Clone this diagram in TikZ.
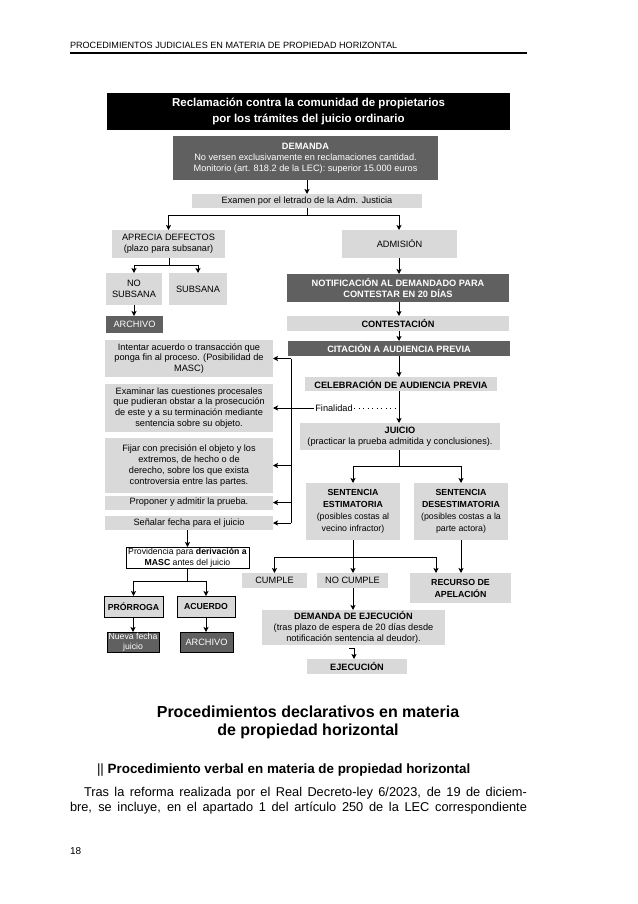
\documentclass[tikz,border=0pt]{standalone}
\usepackage{fontspec}
\setmainfont{Liberation Sans}
\usetikzlibrary{arrows.meta}
\definecolor{lightg}{HTML}{D9D9D9}
\definecolor{darkg}{HTML}{606060}
\newcommand\dfont{\fontsize{9.2}{10.8}\selectfont}
\begin{document}
\begin{tikzpicture}[x=1pt,y=-1pt,
  base/.style={inner sep=0pt,outer sep=0pt,align=center,font=\dfont},
  light/.style={base,fill=lightg},
  dark/.style={base,fill=darkg,text=white},
  bord/.style={draw=black,line width=0.9pt},
  ln/.style={line width=0.9pt},
  arr/.style={ln,-{Stealth[length=5pt,width=5pt,inset=1.2pt]}},
  sz/.style 2 args={minimum width=#1pt,minimum height=#2pt},
  txt/.style={inner sep=0pt,outer sep=0pt},
  small/.style={font=\fontsize{8.7}{10.5}\selectfont},
  sent/.style={font=\fontsize{8.8}{12}\selectfont},
]
\useasboundingbox[fill=white] (0,0) rectangle (637,904);

% header
\node[txt,anchor=west,font=\fontsize{9.1}{10}\selectfont] (hd) at (70,45) {PROCEDIMIENTOS JUDICIALES EN MATERIA DE PROPIEDAD HORIZONTAL};
\coordinate (r1) at (70,53);
\coordinate (r2) at (527,53);
\draw[line width=2pt] (r1) -- (r2);

% title
\node[base,fill=black,text=white,font=\fontsize{11.5}{16}\selectfont\bfseries,sz={403}{37}] (title) at (308.5,111.5) {Reclamación contra la comunidad de propietarios\\por los trámites del juicio ordinario};

\node[dark,sz={265}{44}] (dem) at (305.5,158) {\textbf{DEMANDA}\\No versen exclusivamente en reclamaciones cantidad.\\Monitorio (art. 818.2 de la LEC): superior 15.000 euros};
\node[light,sz={230}{14}] (exa) at (307,201) {Examen por el letrado de la Adm. Justicia};

\node[light,sz={113}{28}] (apre) at (168.5,244) {APRECIA DEFECTOS\\(plazo para subsanar)};
\node[light,sz={115}{28}] (adm) at (399.5,244) {ADMISIÓN};
\node[light,sz={56}{32}] (nosub) at (134,289) {NO\\SUBSANA};
\node[light,sz={58}{32}] (sub) at (198,289) {SUBSANA};
\node[dark,sz={57}{17}] (arch1) at (134.5,324.5) {ARCHIVO};

\node[dark,sz={222}{28}] (notif) at (398,288) {\textbf{NOTIFICACIÓN AL DEMANDADO PARA}\\\textbf{CONTESTAR EN 20 DÍAS}};
\node[light,sz={222}{15}] (cont) at (398,323.5) {\textbf{CONTESTACIÓN}};
\node[dark,sz={222}{15}] (cit) at (399,348.5) {\textbf{CITACIÓN A AUDIENCIA PREVIA}};
\node[light,sz={192}{14}] (celeb) at (401,384) {\textbf{CELEBRACIÓN DE AUDIENCIA PREVIA}};
\node[light,sz={200}{27}] (juicio) at (400,436.5) {\textbf{JUICIO}\\(practicar la prueba admitida y conclusiones).};
\node[base,inner sep=1.5pt] (fin) at (334,408) {Finalidad};

% left column
\node[light,sz={168}{37}] (b1) at (189,358.5) {Intentar acuerdo o transacción que\\ponga fin al proceso. (Posibilidad de\\MASC)};
\node[light,sz={168}{48}] (b2) at (189,408) {Examinar las cuestiones procesales\\que pudieran obstar a la prosecución\\de este y a su terminación mediante\\sentencia sobre su objeto.};
\node[light,sz={168}{55}] (b3) at (189,465.5) {Fijar con precisión el objeto y los\\extremos, de hecho o de\\derecho, sobre los que exista\\controversia entre las partes.};
\node[light,sz={168}{14}] (b4) at (189,502.5) {Proponer y admitir la prueba.};
\node[light,sz={168}{14}] (b5) at (189,523) {Señalar fecha para el juicio};

\node[base,small,fill=white,bord,sz={123}{21}] (prov) at (187.5,557.5) {Providencia para \textbf{derivación a}\\\textbf{MASC} antes del juicio};
\node[light,small,bord,sz={59}{21}] (pror) at (133.5,606.5) {\textbf{PRÓRROGA}};
\node[light,small,bord,sz={58}{21}] (acu) at (206,606.5) {\textbf{ACUERDO}};
\node[dark,small,bord,sz={52}{20}] (nueva) at (133,642) {Nueva fecha\\juicio};
\node[dark,bord,sz={53}{20}] (arch2) at (206.5,642) {ARCHIVO};

% sentences
\node[light,sent,sz={94}{57}] (sE) at (353,511.5) {\textbf{SENTENCIA}\\\textbf{ESTIMATORIA}\\(posibles costas al\\vecino infractor)};
\node[light,sent,sz={94}{57}] (sD) at (461,511.5) {\textbf{SENTENCIA}\\\textbf{DESESTIMATORIA}\\(posibles costas a la\\parte actora)};
\node[light,sz={65}{15}] (cumple) at (274.5,580.5) {CUMPLE};
\node[light,sz={71}{15}] (nocumple) at (352.5,580.5) {NO CUMPLE};
\node[light,sent,sz={101}{30}] (recurso) at (460.5,588) {\textbf{RECURSO DE}\\\textbf{APELACIÓN}};
\node[light,sz={183}{35}] (dej) at (353.5,627.5) {\textbf{DEMANDA DE EJECUCIÓN}\\(tras plazo de espera de 20 días desde\\notificación sentencia al deudor).};
\node[light,sz={100}{15}] (ejec) at (357,666.5) {\textbf{EJECUCIÓN}};

% coordinates
\coordinate (sp) at (399,0);
\coordinate (ex) at (307,215);
\coordinate (ap) at (169,265);
\coordinate (vx) at (291,0);
\coordinate (pj) at (187.5,581);
\coordinate (jj) at (399,466);
\coordinate (ej) at (353,557);
\coordinate (rin) at (436,573);
\coordinate (hk) at (349,648);
\coordinate (hx) at (354,648);

% connectors
\draw[arr] (dem.south -| exa.north) -- (exa.north);
\draw[ln] (exa.south -| ex) -- (ex);
\draw[arr] (ex) -| (apre.north);
\draw[arr] (ex) -| (sp |- adm.north);
\draw[ln] (apre.south -| ap) -- (ap);
\draw[arr] (ap) -| (nosub.north);
\draw[arr] (ap) -| (sub.north);
\draw[arr] (nosub.south) -- (nosub.south |- arch1.north);
\draw[arr] (sp |- adm.south) -- (sp |- notif.north);
\draw[arr] (sp |- notif.south) -- (sp |- cont.north);
\draw[arr] (sp |- cont.south) -- (sp |- cit.north);
\draw[arr] (sp |- cit.south) -- (sp |- celeb.north);
\draw[arr] (sp |- celeb.south) -- (sp |- juicio.north);
\draw[ln,dash pattern=on 1pt off 3.5pt] (fin.east) -- (fin.east -| sp);

\draw[ln] (vx |- b1.east) -- (vx |- b5.east);
\draw[ln] (vx |- fin.west) -- (fin.west);
\foreach \b in {b1,b2,b3,b4,b5} {\draw[arr] (vx |- \b.east) -- (\b.east);}

\draw[arr] (b5.south -| prov.north) -- (prov.north);
\draw[ln] (prov.south) -- (pj);
\draw[arr] (pj) -| (pror.north);
\draw[arr] (pj) -| (acu.north);
\draw[arr] (pror.south -| nueva.north) -- (nueva.north);
\draw[arr] (acu.south) -- (acu.south |- arch2.north);

\draw[ln] (sp |- juicio.south) -- (jj);
\draw[arr] (jj) -| (sE.north);
\draw[arr] (jj) -| (sD.north);
\draw[ln] (sE.south -| ej) -- (ej);
\draw[arr] (ej) -| (cumple.north);
\draw[arr] (ej) -- (ej |- nocumple.north);
\draw[arr] (ej) -| (rin);
\draw[arr] (sD.south) -- (sD.south |- recurso.north);
\draw[arr] (nocumple.south -| ej) -- (ej |- dej.north);
\draw[arr] (hk) -- (hx) -- (hx |- ejec.north);

% text below
\node[txt,align=center,font=\fontsize{16}{18}\selectfont\bfseries] (t2) at (308,722) {Procedimientos declarativos en materia\\de propiedad horizontal};
\node[txt,anchor=base west,font=\fontsize{13.4}{16}\selectfont] (h2) at (97,773) {||\ \textbf{Procedimiento verbal en materia de propiedad horizontal}};
\node[txt,anchor=base west,font=\fontsize{12.8}{15}\selectfont] (p1) at (84,796) {\makebox[443pt][s]{Tras la reforma realizada por el Real Decreto-ley 6/2023, de 19 de diciem-}};
\node[txt,anchor=base west,font=\fontsize{12.8}{15}\selectfont] (p2) at (70,811) {\makebox[457pt][s]{bre, se incluye, en el apartado 1 del artículo 250 de la LEC correspondiente}};
\node[txt,anchor=west,font=\fontsize{10}{12}\selectfont] (pg) at (70,851) {18};
\end{tikzpicture}
\end{document}
